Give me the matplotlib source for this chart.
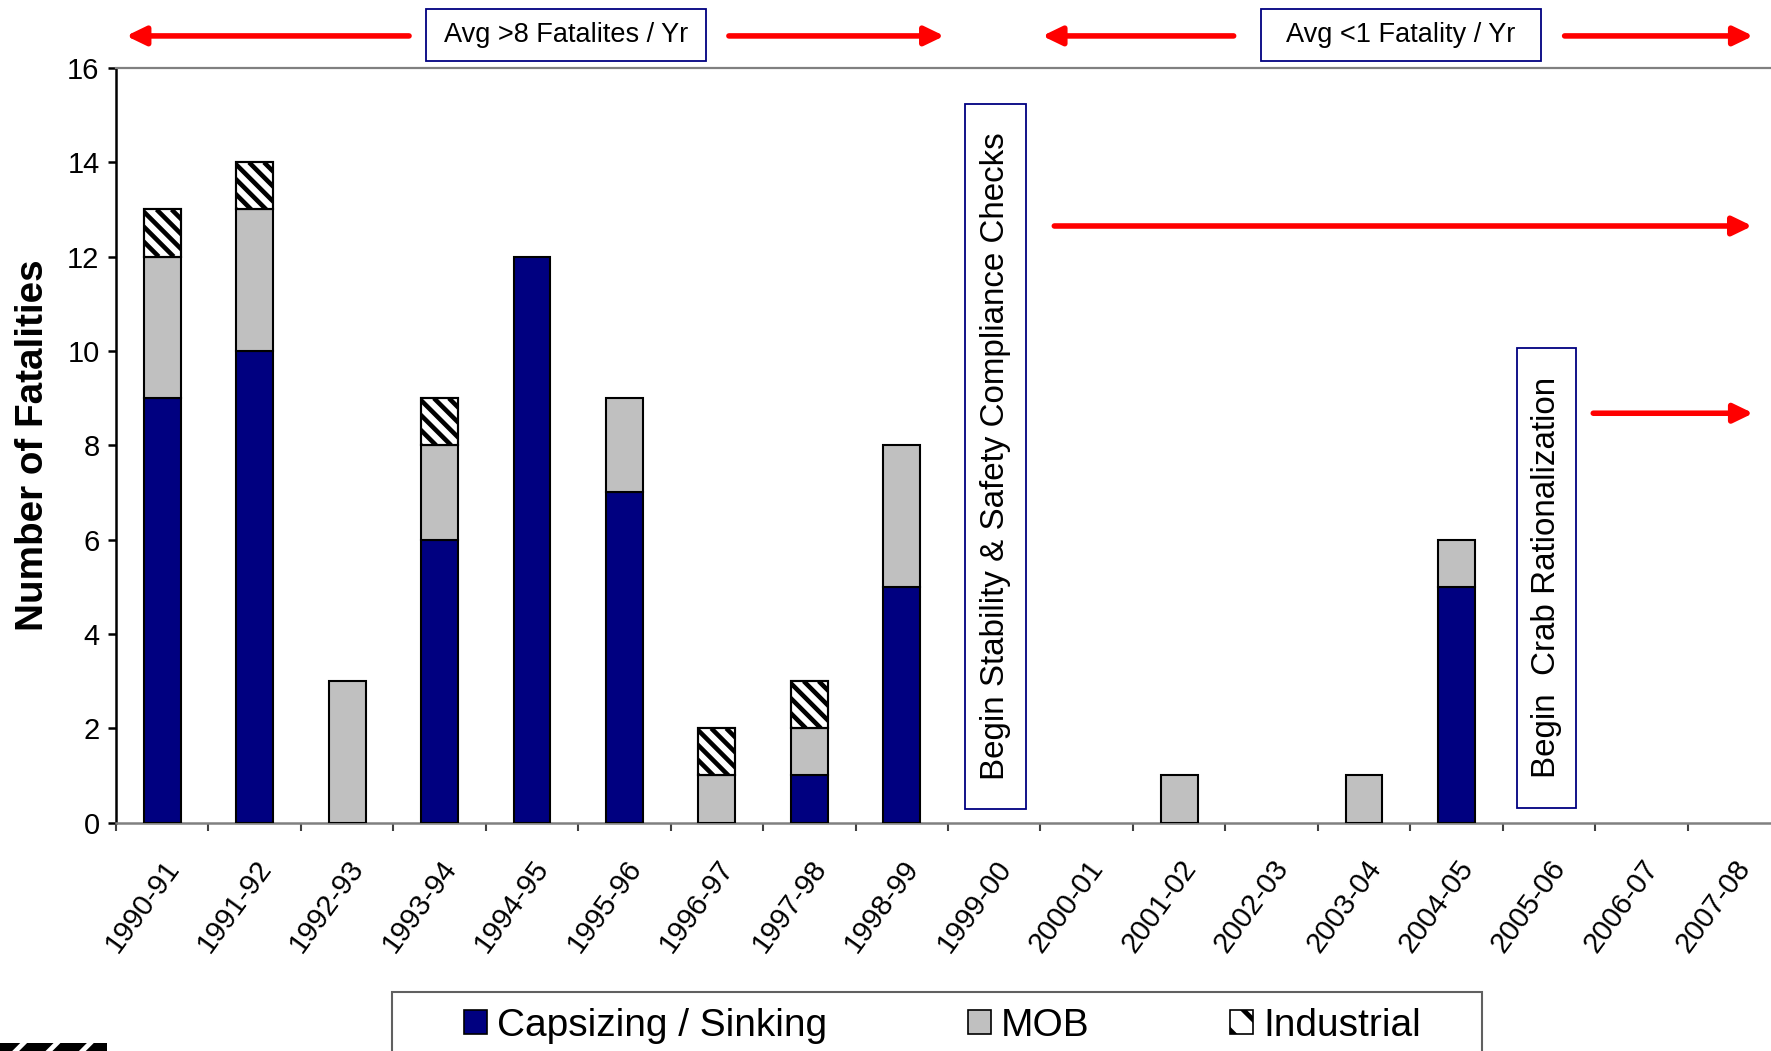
import matplotlib
matplotlib.use("Agg")
import matplotlib.pyplot as plt
import numpy as np
from matplotlib.patches import Patch, Rectangle, FancyArrowPatch
from matplotlib.collections import LineCollection
from matplotlib.transforms import IdentityTransform

plt.rcParams['font.family'] = ['Liberation Sans', 'DejaVu Sans']
plt.rcParams['hatch.linewidth'] = 3.5

# Fishing seasons and fatalities by cause
seasons = ['1990-91', '1991-92', '1992-93', '1993-94', '1994-95', '1995-96',
           '1996-97', '1997-98', '1998-99', '1999-00', '2000-01', '2001-02',
           '2002-03', '2003-04', '2004-05', '2005-06', '2006-07', '2007-08']
capsizing = [9, 10, 0, 6, 12, 7, 0, 1, 5, 0, 0, 0, 0, 0, 5, 0, 0, 0]
mob = [3, 3, 3, 2, 0, 2, 1, 1, 3, 0, 0, 1, 0, 1, 1, 0, 0, 0]
industrial = [1, 1, 0, 1, 0, 0, 1, 1, 0, 0, 0, 0, 0, 0, 0, 0, 0, 0]
series_names = ['Capsizing / Sinking', 'MOB', 'Industrial']

NAVY = '#000080'
GRAY = '#C0C0C0'
DPI = 100

fig = plt.figure(figsize=(17.71, 10.51), dpi=DPI)
ax = fig.add_axes([116 / 1771, 1 - 822.6 / 1051, 1664 / 1771, 754.6 / 1051])

x = np.arange(len(seasons))
width = 0.4
cap = np.array(capsizing)
mo = np.array(mob)
ind = np.array(industrial)

ax.set_xlim(-0.5, len(seasons) - 0.5)
ax.set_ylim(0, 16)


def stacked(vals, bottom, z=3, **style):
    keep = vals > 0
    return ax.bar(x[keep], vals[keep], width, bottom=bottom[keep],
                  edgecolor='black', linewidth=1.5, zorder=z, **style)


stacked(cap, np.zeros_like(cap), facecolor=NAVY)
stacked(mo, cap, facecolor=GRAY)
hatched = stacked(ind, cap + mo, facecolor='white')

# diagonal stripe fill for the "Industrial" segments
step = 15.0
for rect in hatched:
    bb = rect.get_window_extent()
    h = bb.height
    segs = [[(c, bb.y1), (c + h, bb.y0)]
            for c in np.arange(bb.x0 - h - step, bb.x1 + step, step)]
    lc = LineCollection(segs, colors='black', linewidths=3.3,
                        transform=IdentityTransform(), zorder=3.5)
    ax.add_collection(lc, autolim=False)
    lc.set_clip_path(rect.get_path(), rect.get_transform())
stacked(ind, cap + mo, z=3.6, fill=False)

ax.set_yticks(np.arange(0, 17, 2))
ax.tick_params(axis='y', length=5.8, width=1.8, pad=6, labelsize=21,
               direction='out')

ax.set_xticks(x)
ax.set_xticklabels(seasons, rotation=54, ha='right', va='top',
                   rotation_mode='anchor', fontsize=21)
ax.tick_params(axis='x', which='major', length=0, pad=23)
ax.set_xticks(np.arange(-0.5, len(seasons), 1), minor=True)
ax.tick_params(axis='x', which='minor', length=5.8, width=1.5,
               color='#404040', direction='out')

ax.spines['right'].set_visible(False)
ax.spines['top'].set_color('#808080')
ax.spines['top'].set_linewidth(1.6)
ax.spines['bottom'].set_color('#808080')
ax.spines['bottom'].set_linewidth(1.8)
ax.spines['left'].set_color('black')
ax.spines['left'].set_linewidth(1.8)

ax.set_ylabel('Number of Fatalities', fontsize=27.8, fontweight='bold',
              va='center')
ax.yaxis.set_label_coords(-0.0497, 0.5)


def red_arrow(x0, x1, y):
    ax.add_patch(FancyArrowPatch((x0, y), (x1, y),
                                 arrowstyle='-|>,head_length=0.58,head_width=0.28',
                                 mutation_scale=20, lw=4, color='red',
                                 shrinkA=0, shrinkB=0, clip_on=False, zorder=4))


def boxed_label(x0, x1, y0, y1, text, size, rotation=0):
    ax.add_patch(Rectangle((x0, y0), x1 - x0, y1 - y0, facecolor='white',
                           edgecolor=NAVY, lw=1.3, clip_on=False, zorder=4))
    ax.text((x0 + x1) / 2, (y0 + y1) / 2, text, fontsize=size,
            rotation=rotation, ha='center', va='center', zorder=5,
            clip_on=False, rotation_mode='anchor')


# period banners above the plot
boxed_label(2.851, 5.882, 16.15, 17.25, 'Avg >8 Fatalites / Yr', 19.5)
boxed_label(11.89, 14.91, 16.15, 17.25, 'Avg <1 Fatality / Yr', 19.5)
red_arrow(2.67, -0.39, 16.68)
red_arrow(6.13, 8.46, 16.68)
red_arrow(11.59, 9.52, 16.68)
red_arrow(15.17, 17.21, 16.68)

# management milestones
boxed_label(8.68, 9.34, 0.29, 15.24,
            'Begin Stability & Safety Compliance Checks', 23.9, rotation=90)
boxed_label(14.65, 15.29, 0.32, 10.06,
            'Begin  Crab Rationalization', 23.9, rotation=90)
red_arrow(9.65, 17.2, 12.65)
red_arrow(15.48, 17.21, 8.68)

# legend
handles = [Patch(facecolor=NAVY, edgecolor='black', linewidth=1.2),
           Patch(facecolor=GRAY, edgecolor='black', linewidth=1.2),
           Patch(facecolor='white', edgecolor='black', linewidth=1.2, hatch='\\')]
fig.legend(handles, series_names, loc='center left',
           bbox_to_anchor=(464 / 1771, 1 - 1026 / 1051), ncol=3,
           frameon=False, fontsize=28, handlelength=0.58, handleheight=0.58,
           handletextpad=0.26, columnspacing=3.63, borderpad=0,
           borderaxespad=0)
fig.add_artist(Rectangle((392 / 1771, -0.1), (1482 - 392) / 1771,
                         0.1 + (1 - 991.7 / 1051), transform=fig.transFigure,
                         fill=False, edgecolor='#606060', lw=1.5))

# corner emblem strip
fig.add_artist(Rectangle((0, 0), 107 / 1771, 8 / 1051, transform=fig.transFigure,
                         facecolor='black', edgecolor='white', lw=0, hatch='/'))

fig.savefig('out.png', dpi=DPI)
